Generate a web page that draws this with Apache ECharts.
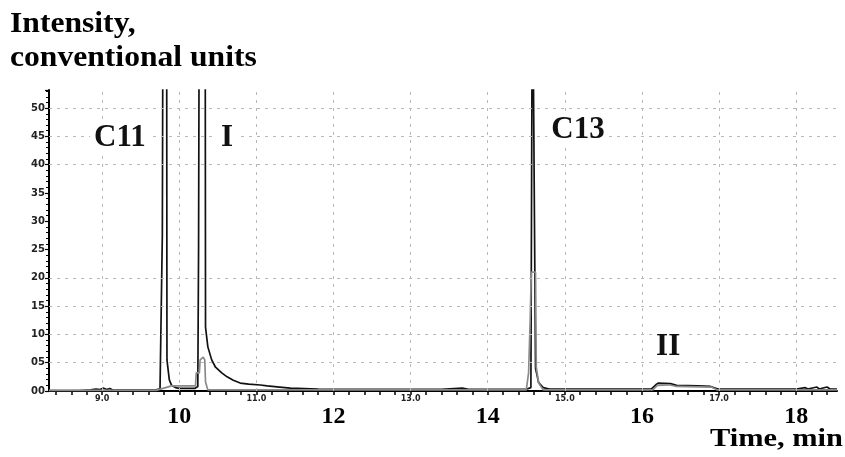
<!DOCTYPE html>
<html>
<head>
<meta charset="utf-8">
<script src="https://cdn.jsdelivr.net/npm/echarts@6/dist/echarts.min.js"></script>
<style>
html, body { margin: 0; padding: 0; background: #fff; }
#main { width: 845px; height: 457px; }
</style>
</head>
<body>
<div id="main"></div>
<script>
// black trace (time, min / intensity)
var timeBlack = [8.31, 8.70, 8.85, 8.92, 8.97, 9.02, 9.06, 9.10, 9.14, 9.40, 9.70, 9.75, 9.78, 9.79, 9.835, 9.84, 9.87, 9.90, 9.95, 10.0,
  10.20, 10.24, 10.25, 10.26, 10.335, 10.34, 10.37, 10.42, 10.47, 10.55, 10.62, 10.70, 10.79, 10.90, 11.05, 11.14, 11.30, 11.44, 11.8, 12.5,
  13.4, 13.67, 13.75, 14.5, 14.56, 14.58, 14.60, 14.62, 14.66, 14.72, 14.8, 16.12, 16.18, 16.21, 16.37, 16.45, 16.73, 16.89, 16.95, 16.99,
  18.0, 18.12, 18.15, 18.27, 18.30, 18.40, 18.44, 18.53];
var intensityBlack = [0.05, 0.05, 0.2, 0.35, 0.25, 0.5, 0.25, 0.45, 0.15, 0.15, 0.2, 0.4, 27.6, 80, 80, 5.5, 2.0, 1.0, 0.6, 0.45,
  0.45, 0.8, 25.5, 80, 80, 11.3, 7.8, 5.5, 4.2, 3.2, 2.5, 1.9, 1.4, 1.2, 1.06, 0.9, 0.7, 0.5, 0.35, 0.3,
  0.3, 0.5, 0.3, 0.3, 0.6, 80, 80, 4, 1.5, 0.6, 0.35, 0.35, 1.1, 1.4, 1.3, 1.0, 0.9, 0.8, 0.5, 0.35,
  0.35, 0.6, 0.35, 0.7, 0.35, 0.7, 0.35, 0.35];

// gray trace
var timeGray = [8.31, 9.70, 9.90, 10.21, 10.22, 10.26, 10.27, 10.31, 10.33, 10.34, 10.37, 14.50, 14.52, 14.53, 14.55, 14.565, 14.62, 14.63, 14.66, 14.72,
  16.14, 16.20, 16.35, 16.45, 16.90, 16.97, 18.53];
var intensityGray = [0.1, 0.1, 0.9, 0.9, 3.2, 3.2, 5.5, 6.0, 5.5, 1.6, 0.2, 0.2, 0.5, 3.2, 12.2, 21, 21, 4.2, 1.4, 0.2,
  0.2, 1.0, 1.1, 0.8, 0.7, 0.2, 0.2];

// peak names and where they are written
var peakNames = ['C11', 'I', 'C13', 'II'];
var peakLabelTime = [9.23, 10.62, 15.17, 16.34];
var peakLabelIntensity = [44.7, 44.7, 46.1, 7.8];

// axis labels
var smallTimeLabels = [9, 11, 13, 15, 17];
var bigTimeLabels = [10, 12, 14, 16, 18];
var gridIntensity = [5, 10, 15, 20, 40, 45, 50];
var gridTime = [9, 10, 11, 12, 13, 14, 15, 16, 17, 18];

var tMin = 8.31, tMax = 18.53;
var minorTicks = [];
for (var k = 42; k <= 92; k++) minorTicks.push(k / 5);

function pairs(xs, ys) {
  return xs.map(function (x, i) { return [x, ys[i]]; });
}

var serif = '"Liberation Serif", "Times New Roman", serif';
var gridLine = { color: '#b8b8b8', width: 1, type: [3, 5] };

var main = document.getElementById('main');
var chart = echarts.init(main);
var option = {
  animation: false,
  grid: { left: 49, right: 8, top: 90, bottom: 66, containLabel: false },
  xAxis: [
    {
      type: 'value', min: tMin, max: tMax,
      axisLine: { show: true, onZero: false, lineStyle: { color: '#000', width: 2 } },
      axisTick: { show: true, customValues: minorTicks, length: 4, lineStyle: { color: '#000', width: 1.5 } },
      axisLabel: {
        customValues: smallTimeLabels, margin: 4, fontSize: 8, fontWeight: 'bold',
        fontFamily: 'DejaVu Sans', color: '#222',
        formatter: function (v) { return v.toFixed(1); }
      },
      splitLine: { show: false }
    },
    {
      type: 'value', min: tMin, max: tMax, position: 'bottom',
      axisLine: { show: false }, axisTick: { show: false },
      axisLabel: {
        customValues: bigTimeLabels, margin: 14, fontSize: 24, fontWeight: 'bold',
        fontFamily: serif, color: '#000'
      },
      splitLine: { show: false }
    }
  ],
  yAxis: {
    type: 'value', min: 0, max: 53.2, interval: 5,
    axisLine: { show: true, lineStyle: { color: '#000', width: 2 } },
    axisTick: { show: true, length: 4, lineStyle: { color: '#000', width: 1.2 } },
    minorTick: { show: true, splitNumber: 5, length: 3, lineStyle: { color: '#000', width: 1 } },
    axisLabel: {
      margin: 4, fontSize: 10, fontWeight: 'bold', fontFamily: 'DejaVu Sans', color: '#222',
      formatter: function (v) {
        if (v % 5 !== 0 || v > 50) return '';
        return (v < 10 ? '0' : '') + v;
      }
    },
    splitLine: { show: false }
  },
  graphic: [
    { type: 'text', x: 10, y: 10, scaleX: 1.09, style: { text: 'Intensity,', font: 'bold 29px ' + serif, fill: '#000', verticalAlign: 'top' } },
    { type: 'text', x: 10, y: 44, scaleX: 1.09, style: { text: 'conventional units', font: 'bold 29px ' + serif, fill: '#000', verticalAlign: 'top' } },
    { type: 'text', x: 710, y: 426, scaleX: 1.17, style: { text: 'Time, min', font: 'bold 26px ' + serif, fill: '#000', verticalAlign: 'top' } }
  ],
  series: [
    {
      // helper series for the dotted grid
      type: 'line', data: [], z: 1, silent: true,
      markLine: {
        silent: true, symbol: 'none', label: { show: false },
        lineStyle: gridLine,
        data: gridIntensity.map(function (v) { return { yAxis: v }; })
          .concat(gridTime.map(function (t) { return { xAxis: t }; }))
      }
    },
    {
      name: 'trace', type: 'line', data: pairs(timeBlack, intensityBlack), z: 3,
      showSymbol: false, clip: true,
      lineStyle: { color: '#111', width: 1.7 },
      markPoint: {
        symbol: 'rect', symbolSize: 1, itemStyle: { color: 'rgba(0,0,0,0)' },
        label: {
          show: true, position: 'inside', color: '#111', fontSize: 31, fontWeight: 'bold',
          fontFamily: serif, backgroundColor: '#fff', padding: [0, 4],
          formatter: function (p) { return p.name; }
        },
        data: peakNames.map(function (n, i) {
          return { name: n, coord: [peakLabelTime[i], peakLabelIntensity[i]] };
        })
      }
    },
    {
      name: 'trace 2', type: 'line', data: pairs(timeGray, intensityGray), z: 4,
      showSymbol: false, clip: true,
      lineStyle: { color: '#8a8a8a', width: 1.7 }
    }
  ]
};
chart.setOption(option);
</script>
</body>
</html>
